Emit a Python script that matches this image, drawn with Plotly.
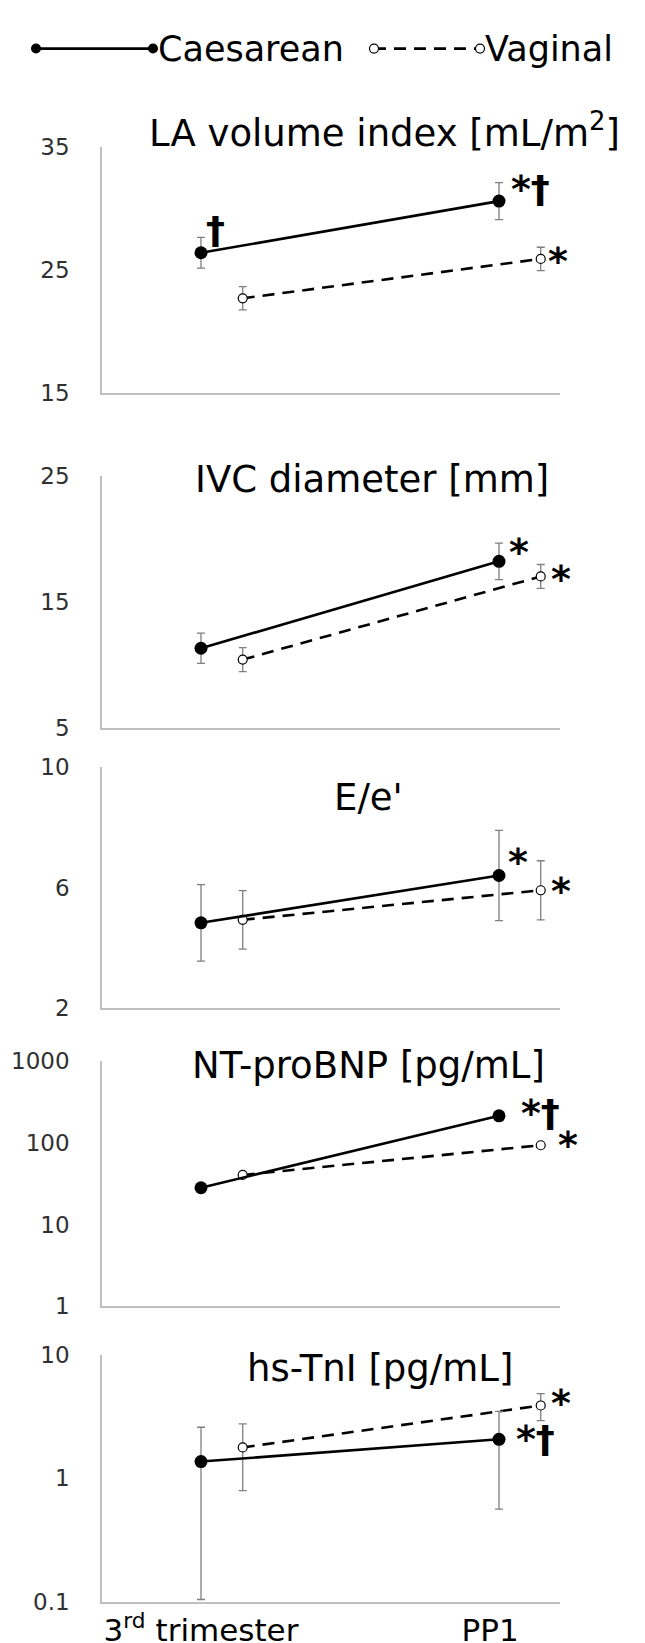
import math
import plotly.graph_objects as go

# ---------------- data ----------------
time_points = ["3<sup>rd</sup> trimester", "PP1"]
groups = ["Caesarean", "Vaginal"]

la_c = [26.4, 30.6]
la_c_err = [1.25, 1.5]
la_v = [22.7, 25.9]
la_v_err = [0.95, 0.95]

ivc_c = [11.3, 18.2]
ivc_c_err = [1.2, 1.45]
ivc_v = [10.4, 17.0]
ivc_v_err = [0.95, 0.95]

ee_c = [4.83, 6.4]
ee_c_err = [1.27, 1.5]
ee_v = [4.93, 5.91]
ee_v_err = [0.97, 0.98]

bnp_c = [28.3, 215]
bnp_v = [40.6, 93.8]

tni_c = [1.36, 2.06]
tni_c_hi = [2.58, 3.47]
tni_c_lo = [0.104, 0.56]
tni_v = [1.77, 3.87]
tni_v_hi = [2.75, 4.82]
tni_v_lo = [0.79, 2.92]

titles = ["LA volume index [mL/m<sup>2</sup>]", "IVC diameter [mm]", "E/e'",
          "NT-proBNP [pg/mL]", "hs-TnI [pg/mL]"]

# significance marks: (panel, text)
sig_text = [
    (0, "†"), (0, "*†"), (0, "*"),
    (1, "*"), (1, "*"),
    (2, "*"), (2, "*"),
    (3, "*†"), (3, "*"),
    (4, "*"), (4, "*†"),
]

# ---------------- layout (positions / styles) ----------------
W, H = 645, 1643
v_offset = 0.14
x_left_px, x_right_px = 94, 552
first_px = 193
px_per_unit = 298.0
panel_px = [(128, 378), (462, 718), (758, 1003), (1057, 1306), (1355, 1606)]
y_ranges = [[15, 35], [5, 25], [2, 10], [0, 3], [-1, 1]]
y_types = ["linear", "linear", "linear", "log", "log"]
y_ticks = [[15, 25, 35], [5, 15, 25], [2, 6, 10], [1, 10, 100, 1000], [0.1, 1, 10]]
y_ticktext = [["15", "25", "35"], ["5", "15", "25"], ["2", "6", "10"],
              ["1", "10", "100", "1000"], ["0.1", "1", "10"]]
title_px = [111, 466, 789, 1061, 1369]
title_xc = [376, 364, 360, 360, 372]
# anchor positions (x in time units, y in axis units) of the significance marks
sig_pos = [
    (0.05, 27.8), (1.107, 32.28), (1.198, 26.44),
    (1.067, 19.69), (1.208, 17.5),
    (1.064, 7.16), (1.208, 6.18),
    (1.138, 2.48), (1.232, 2.084),
    (1.208, 0.681), (1.124, 0.386),
]

FONT = "DejaVu Sans"
AXIS_GRAY = "#bfbfbf"
ERR_GRAY = "#7f7f7f"
DASH = "12px,8px"

fig = go.Figure()

def sym_err(arr):
    return dict(type="data", array=arr, visible=True)

def asym_err(mid, hi, lo):
    return dict(type="data", symmetric=False,
                array=[h - m for h, m in zip(hi, mid)],
                arrayminus=[m - l for m, l in zip(mid, lo)], visible=True)

panels = [
    (la_c, sym_err(la_c_err), la_v, sym_err(la_v_err)),
    (ivc_c, sym_err(ivc_c_err), ivc_v, sym_err(ivc_v_err)),
    (ee_c, sym_err(ee_c_err), ee_v, sym_err(ee_v_err)),
    (bnp_c, None, bnp_v, None),
    (tni_c, asym_err(tni_c, tni_c_hi, tni_c_lo), tni_v, asym_err(tni_v, tni_v_hi, tni_v_lo)),
]

x_c = [i for i in range(len(time_points))]
x_v = [i + v_offset for i in x_c]
x_range = [-(first_px - x_left_px) / px_per_unit, (x_right_px - first_px) / px_per_unit]
err_style = dict(color=ERR_GRAY, thickness=1.3, width=4)

for p, (yc, ec, yv, ev) in enumerate(panels):
    n = "" if p == 0 else str(p + 1)
    xa, ya = "x" + n, "y" + n
    fig.add_trace(go.Scatter(
        x=x_v, y=yv, xaxis=xa, yaxis=ya, mode="lines+markers", name=groups[1],
        showlegend=False,
        line=dict(color="black", width=2.6, dash=DASH),
        marker=dict(symbol="circle", size=9, color="white",
                    line=dict(color="black", width=1.2)),
        error_y=dict(ev, **err_style) if ev else None))
    fig.add_trace(go.Scatter(
        x=x_c, y=yc, xaxis=xa, yaxis=ya, mode="lines+markers", name=groups[0],
        showlegend=False,
        line=dict(color="black", width=2.6),
        marker=dict(symbol="circle", size=13, color="black"),
        error_y=dict(ec, **err_style) if ec else None))

    top, bot = panel_px[p]
    fig.layout["xaxis" + n] = dict(
        domain=[x_left_px / W, x_right_px / W], range=x_range, anchor=ya,
        showline=True, linecolor=AXIS_GRAY, linewidth=1.5, showgrid=False,
        zeroline=False, ticks="", fixedrange=True,
        tickvals=[0, 0.97] if p == 4 else [],
        ticktext=time_points if p == 4 else [],
        showticklabels=(p == 4),
        tickfont=dict(family=FONT, size=31, color="black"),
        ticklabelstandoff=0,
    )
    fig.layout["yaxis" + n] = dict(
        domain=[1 - bot / H, 1 - top / H], range=y_ranges[p], type=y_types[p],
        anchor=xa, showline=True, linecolor=AXIS_GRAY, linewidth=1.5,
        showgrid=False, zeroline=False, ticks="",
        tickvals=y_ticks[p], ticktext=y_ticktext[p],
        tickfont=dict(family=FONT, size=23, color="#303030"),
        ticklabelstandoff=26,
    )
    fig.add_annotation(text=titles[p], xref="paper", yref="paper",
                       x=title_xc[p] / W, y=1 - title_px[p] / H, showarrow=False,
                       font=dict(family=FONT, size=37, color="black"),
                       xanchor="center", yanchor="middle")

for (p, txt), (ax, ay) in zip(sig_text, sig_pos):
    n = "" if p == 0 else str(p + 1)
    ys = -9 if txt.startswith("*") else 6
    fig.add_annotation(text="<b>" + txt + "</b>", xref="paper", yref="y" + n,
                       x=(first_px + ax * px_per_unit) / W, y=ay, showarrow=False,
                       xanchor="center", yanchor="middle",
                       yshift=ys, font=dict(family=FONT, size=38, color="black"))

# ---------------- legend (drawn on its own hidden axis) ----------------
leg_y = 28
leg_c = (28, 145)
leg_v = (366, 472)
fig.layout["xaxis6"] = dict(domain=[0, 1], range=[0, W], visible=False, fixedrange=True,
                            anchor="y6")
fig.layout["yaxis6"] = dict(domain=[1 - 56 / H, 1], range=[56, 0], visible=False,
                            fixedrange=True, anchor="x6")
fig.add_trace(go.Scatter(x=list(leg_c), y=[leg_y, leg_y], xaxis="x6", yaxis="y6",
                         mode="lines+markers", showlegend=False, hoverinfo="skip",
                         line=dict(color="black", width=2.8),
                         marker=dict(size=10, color="black")))
fig.add_trace(go.Scatter(x=list(leg_v), y=[leg_y, leg_y], xaxis="x6", yaxis="y6",
                         mode="lines+markers", showlegend=False, hoverinfo="skip",
                         line=dict(color="black", width=2.8, dash=DASH),
                         marker=dict(size=9, color="white", line=dict(color="black", width=1.2))))
fig.add_annotation(text=groups[0], xref="x6", yref="y6", x=leg_c[1] + 3, y=leg_y,
                   showarrow=False, xanchor="left", yanchor="middle",
                   font=dict(family=FONT, size=35, color="black"))
fig.add_annotation(text=groups[1], xref="x6", yref="y6", x=leg_v[1] + 3, y=leg_y,
                   showarrow=False, xanchor="left", yanchor="middle",
                   font=dict(family=FONT, size=35, color="black"))

fig.update_layout(
    width=W, height=H, margin=dict(l=0, r=0, t=0, b=0),
    paper_bgcolor="white", plot_bgcolor="white",
    showlegend=False,
)

fig.write_html("out.html")
